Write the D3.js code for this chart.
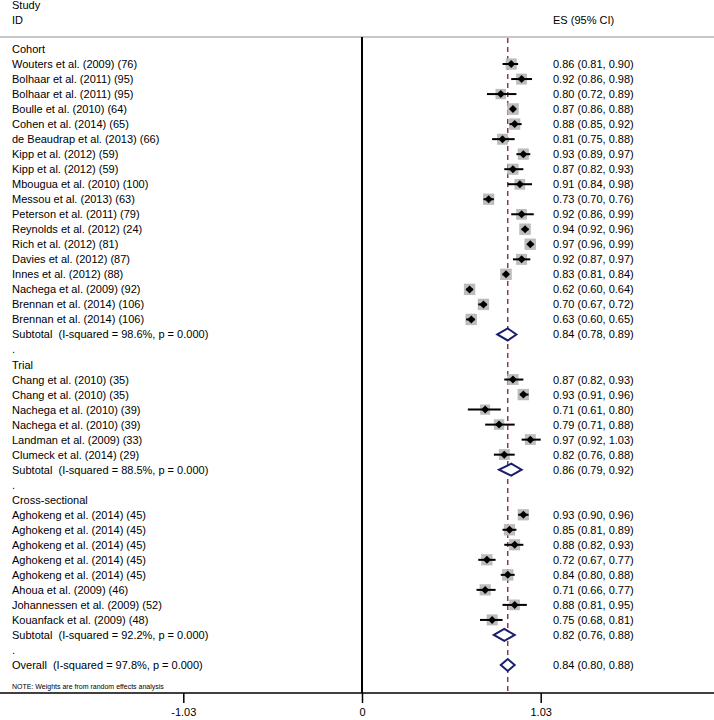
<!DOCTYPE html>
<html><head><meta charset="utf-8">
<script src="https://cdn.jsdelivr.net/npm/d3@7"></script>
<style>
html,body{margin:0;padding:0;background:#fff;}
svg text{font-family:"Liberation Sans",Arial,sans-serif;white-space:pre;}
</style></head>
<body>
<script>
// ---- data ----
const rowLabels = [
 "Cohort",
 "Wouters et al. (2009) (76)","Bolhaar et al. (2011) (95)","Bolhaar et al. (2011) (95)","Boulle et al. (2010) (64)",
 "Cohen et al. (2014) (65)","de Beaudrap et al. (2013) (66)","Kipp et al. (2012) (59)","Kipp et al. (2012) (59)",
 "Mbougua et al. (2010) (100)","Messou et al. (2013) (63)","Peterson et al. (2011) (79)","Reynolds et al. (2012) (24)",
 "Rich et al. (2012) (81)","Davies et al. (2012) (87)","Innes et al. (2012) (88)","Nachega et al. (2009) (92)",
 "Brennan et al. (2014) (106)","Brennan et al. (2014) (106)",
 "Subtotal  (I-squared = 98.6%, p = 0.000)",
 ".",
 "Trial",
 "Chang et al. (2010) (35)","Chang et al. (2010) (35)","Nachega et al. (2010) (39)","Nachega et al. (2010) (39)",
 "Landman et al. (2009) (33)","Clumeck et al. (2014) (29)",
 "Subtotal  (I-squared = 88.5%, p = 0.000)",
 ".",
 "Cross-sectional",
 "Aghokeng et al. (2014) (45)","Aghokeng et al. (2014) (45)","Aghokeng et al. (2014) (45)","Aghokeng et al. (2014) (45)",
 "Aghokeng et al. (2014) (45)","Ahoua et al. (2009) (46)","Johannessen et al. (2009) (52)","Kouanfack et al. (2009) (48)",
 "Subtotal  (I-squared = 92.2%, p = 0.000)",
 ".",
 "Overall  (I-squared = 97.8%, p = 0.000)"
];
// row type: h=header, s=study, d=diamond (subtotal/overall), b=blank
const rowTypes = "hssssssssssssssssssdbhssssssdbhssssssssdbd".split("");
const es    = [null,0.86,0.92,0.80,0.87,0.88,0.81,0.93,0.87,0.91,0.73,0.92,0.94,0.97,0.92,0.83,0.62,0.70,0.63,0.84,null,
               null,0.87,0.93,0.71,0.79,0.97,0.82,0.86,null,
               null,0.93,0.85,0.88,0.72,0.84,0.71,0.88,0.75,0.82,null,0.84];
const lower = [null,0.81,0.86,0.72,0.86,0.85,0.75,0.89,0.82,0.84,0.70,0.86,0.92,0.96,0.87,0.81,0.60,0.67,0.60,0.78,null,
               null,0.82,0.91,0.61,0.71,0.92,0.76,0.79,null,
               null,0.90,0.81,0.82,0.67,0.80,0.66,0.81,0.68,0.76,null,0.80];
const upper = [null,0.90,0.98,0.89,0.88,0.92,0.88,0.97,0.93,0.98,0.76,0.99,0.96,0.99,0.97,0.84,0.64,0.72,0.65,0.89,null,
               null,0.93,0.96,0.80,0.88,1.03,0.88,0.92,null,
               null,0.96,0.89,0.93,0.77,0.88,0.77,0.95,0.81,0.88,null,0.88];
// approximate random-effects weights (%)
const weights = [null,2.7,2.6,2.4,2.9,2.8,2.6,2.8,2.7,2.5,2.8,2.5,2.9,2.9,2.7,2.9,2.9,2.9,2.9,null,null,
                 null,2.7,2.9,2.2,2.4,2.6,2.6,null,null,
                 null,2.8,2.8,2.7,2.7,2.8,2.7,2.5,2.6,null,null,null];
const overallES = 0.84;
const tickValues = [-1.03, 0, 1.03];
const tickLabels = ["-1.03", "0", "1.03"];
const headerLeft = ["Study", "ID"];
const headerRight = "ES (95% CI)";
const note = "NOTE: Weights are from random effects analysis";

// ---- layout ----
const W = 714, H = 720;
const svg = d3.select("body").append("svg").attr("width", W).attr("height", H);
const x = d3.scaleLinear().domain([-1.03, 1.03]).range([183.3, 540.7]);
const y = d3.scaleLinear().domain([0, rowLabels.length - 1]).range([49, 665]);
const wScale = d3.scaleSqrt().domain([0, 3]).range([0, 11]);
const topY = 37, axisY = 693;
const fmt = d3.format(".2f");

// header
svg.append("text").attr("x", 12).attr("y", 9).attr("font-size", 11).text(headerLeft[0]);
svg.append("text").attr("x", 12).attr("y", 24).attr("font-size", 11).text(headerLeft[1]);
svg.append("text").attr("x", 553).attr("y", 24).attr("font-size", 11).text(headerRight);

// top rule
svg.append("line").attr("x1", 0).attr("x2", W).attr("y1", topY).attr("y2", topY)
  .attr("stroke", "#b4b4b4").attr("stroke-width", 1.5);

// null line
svg.append("line").attr("x1", x(0)).attr("x2", x(0)).attr("y1", topY).attr("y2", axisY)
  .attr("stroke", "#000").attr("stroke-width", 2);

// overall dashed line
svg.append("line").attr("x1", x(overallES)).attr("x2", x(overallES)).attr("y1", topY + 1).attr("y2", axisY)
  .attr("stroke", "#8a3a4c").attr("stroke-width", 1.5).attr("stroke-dasharray", "5,4");

const rows = rowLabels.map((l, i) => ({l, i, t: rowTypes[i], es: es[i], lo: lower[i], hi: upper[i], w: weights[i]}));

// labels
svg.append("g").selectAll("text").data(rows).join("text")
  .attr("x", 12).attr("y", d => y(d.i) + 4).attr("font-size", 11)
  .text(d => d.l);

// ES text
svg.append("g").selectAll("text").data(rows.filter(d => d.es != null)).join("text")
  .attr("x", 553).attr("y", d => y(d.i) + 4).attr("font-size", 11)
  .text(d => `${fmt(d.es)} (${fmt(d.lo)}, ${fmt(d.hi)})`);

const studies = rows.filter(d => d.t === "s");
// boxes
svg.append("g").selectAll("rect").data(studies).join("rect")
  .attr("x", d => x(d.es) - wScale(d.w) / 2).attr("y", d => y(d.i) - wScale(d.w) / 2)
  .attr("width", d => wScale(d.w)).attr("height", d => wScale(d.w))
  .attr("fill", "#bdbdbd").attr("stroke", "#b0b0b0").attr("stroke-width", 0.5);
// CI lines
svg.append("g").selectAll("line").data(studies).join("line")
  .attr("x1", d => x(d.lo)).attr("x2", d => x(d.hi))
  .attr("y1", d => y(d.i)).attr("y2", d => y(d.i))
  .attr("stroke", "#000").attr("stroke-width", 2);
// point markers
svg.append("g").selectAll("path").data(studies).join("path")
  .attr("d", d => {
    const cx = x(d.es), cy = y(d.i), r = 4;
    return `M${cx},${cy - r}L${cx + r},${cy}L${cx},${cy + r}L${cx - r},${cy}Z`;
  })
  .attr("fill", "#000");

// diamonds
svg.append("g").selectAll("path").data(rows.filter(d => d.t === "d")).join("path")
  .attr("d", d => {
    const cy = y(d.i), h = 6;
    return `M${x(d.lo)},${cy}L${x(d.es)},${cy - h}L${x(d.hi)},${cy}L${x(d.es)},${cy + h}Z`;
  })
  .attr("fill", "#fff").attr("stroke", "#1b1f6b").attr("stroke-width", 2);

// note
svg.append("text").attr("x", 12).attr("y", 689).attr("font-size", 7).text(note);

// axis
const axis = d3.axisBottom(x).tickValues(tickValues).tickSize(10)
  .tickFormat((d, i) => tickLabels[i]);
const ag = svg.append("g").attr("transform", `translate(0,${axisY})`).call(axis);
ag.select(".domain").remove();
ag.selectAll(".tick line").attr("stroke", "#000").attr("stroke-width", 1.5);
ag.selectAll(".tick text").attr("font-size", 11).attr("font-family", '"Liberation Sans",Arial,sans-serif')
  .attr("fill", "#000").attr("y", 15);
svg.append("line").attr("x1", 0).attr("x2", W).attr("y1", axisY).attr("y2", axisY)
  .attr("stroke", "#000").attr("stroke-width", 1.5);
</script>
</body></html>
